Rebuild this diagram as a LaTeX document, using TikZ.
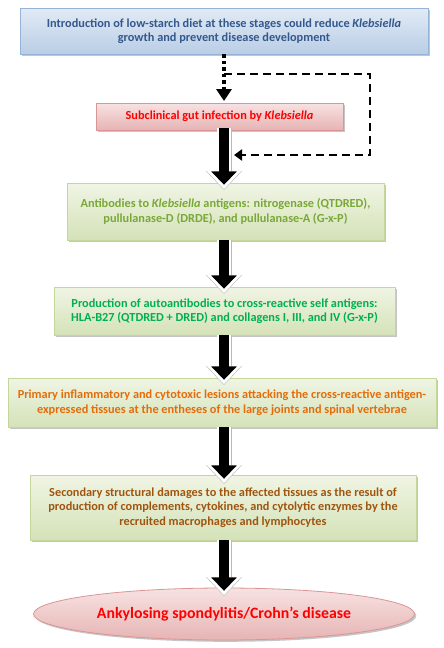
\documentclass[tikz,border=0pt]{standalone}
\usepackage{fontspec}
\setmainfont{Carlito}
\usetikzlibrary{arrows.meta,shapes.geometric,shadows,calc}
\definecolor{bluetxt}{RGB}{52,88,140}
\definecolor{greentxt}{RGB}{122,168,56}
\definecolor{brightgreen}{RGB}{0,176,80}
\definecolor{orangetxt}{RGB}{228,108,10}
\definecolor{browntxt}{RGB}{160,85,15}
\definecolor{redtxt}{RGB}{255,0,0}
\definecolor{bluetop}{RGB}{226,235,246}
\definecolor{bluebot}{RGB}{185,205,229}
\definecolor{blueborder}{RGB}{149,179,215}
\definecolor{pinktop}{RGB}{248,226,226}
\definecolor{pinkbot}{RGB}{230,180,180}
\definecolor{pinkborder}{RGB}{217,150,148}
\definecolor{greentop}{RGB}{240,245,228}
\definecolor{greenbot}{RGB}{212,226,184}
\definecolor{greenborder}{RGB}{195,214,155}
\tikzset{
  boxbase/.style={rectangle, align=center, inner sep=2pt, line width=0.8pt,
    font=\bfseries\fontsize{12.3}{14.5}\selectfont,
    drop shadow={shadow xshift=1.8pt, shadow yshift=-1.8pt, opacity=0.45, fill=gray}},
  bluebox/.style={boxbase, draw=blueborder, top color=bluetop, bottom color=bluebot},
  pinkbox/.style={boxbase, draw=pinkborder, top color=pinktop, bottom color=pinkbot},
  greenbox/.style={boxbase, draw=greenborder, top color=greentop, bottom color=greenbot},
  outcome/.style={ellipse, draw=pinkborder, line width=0.8pt, top color=pinktop, bottom color=pinkbot,
    font=\bfseries\fontsize{15.8}{18}\selectfont, text=redtxt,
    drop shadow={shadow xshift=1.8pt, shadow yshift=-1.8pt, opacity=0.45, fill=gray}},
  barrowgray/.style={line width=15pt, draw=gray!55, -{Triangle[length=19pt,width=35pt]}, shorten >=-4pt},
  barrowwhite/.style={line width=13.5pt, draw=white, -{Triangle[length=18pt,width=33pt]}, shorten >=-3.2pt},
  barrowblack/.style={line width=10pt, draw=black, -{Triangle[length=13.5pt,width=25pt]}, shorten >=1.2pt},
  dotline/.style={line width=3.5pt, dash pattern=on 3.5pt off 3pt, -{Triangle[length=12pt,width=15pt]}},
  dashloop/.style={line width=2.8pt, dash pattern=on 8pt off 5pt, -{Triangle[length=8pt,width=11pt]}}
}
\newcommand{\blockarrow}[2]{%
  \draw[barrowgray] (#1) -- (#2);
  \draw[barrowwhite] (#1) -- (#2);
  \draw[barrowblack] (#1) -- (#2);}
\begin{document}
\begin{tikzpicture}[x=1pt,y=-1pt]
\useasboundingbox[fill=white] (0,0) rectangle (444,648);

\node[bluebox, text=bluetxt, minimum width=408pt, minimum height=46pt] (b1) at (224,31)
  {Introduction of low-starch diet at these stages could reduce \textit{Klebsiella}\\ growth and prevent disease development};
\node[pinkbox, text=redtxt, minimum width=247pt, minimum height=27pt] (b2) at (219.5,116.5)
  {Subclinical gut infection by \textit{Klebsiella}};
\node[greenbox, text=greentxt, minimum width=317pt, minimum height=57pt] (b3) at (225.5,211.5)
  {Antibodies to \textit{Klebsiella} antigens: nitrogenase (QTDRED),\\ pullulanase-D (DRDE), and pullulanase-A (G-x-P)};
\node[greenbox, text=brightgreen, minimum width=341pt, minimum height=48pt] (b4) at (224.5,311)
  {Production of autoantibodies to cross-reactive self antigens:\\ HLA-B27 (QTDRED + DRED) and collagens I, III, and IV (G-x-P)};
\node[greenbox, text=orangetxt, minimum width=428pt, minimum height=49pt] (b5) at (222,402.5)
  {Primary inflammatory and cytotoxic lesions attacking the cross-reactive antigen-\\ expressed tissues at the entheses of the large joints and spinal vertebrae};
\node[greenbox, text=browntxt, minimum width=386pt, minimum height=65pt] (b6) at (223,507.5)
  {Secondary structural damages to the affected tissues as the result of\\ production of complements, cytokines, and cytolytic enzymes by the\\ recruited macrophages and lymphocytes};
\node[outcome, minimum width=381pt, minimum height=52pt, inner sep=0pt] (b7) at (224,614)
  {Ankylosing spondylitis/Crohn’s disease};

% dotted arrow from b1 to b2
\coordinate (d1) at (224,54);
\coordinate (d2) at (224,101);
\draw[dotline] (d1) -- (d2);

% block arrows
\coordinate (a1s) at (224,128);
\coordinate (a1e) at (224,186);
\blockarrow{a1s}{a1e}
\coordinate (a2s) at (224,240);
\coordinate (a2e) at (224,290);
\blockarrow{a2s}{a2e}
\coordinate (a3s) at (224,335);
\coordinate (a3e) at (224,381);
\blockarrow{a3s}{a3e}
\coordinate (a4s) at (224,427);
\coordinate (a4e) at (224,480);
\blockarrow{a4s}{a4e}
\coordinate (a5s) at (224,540);
\coordinate (a5e) at (224,592);
\blockarrow{a5s}{a5e}

% dashed feedback loop
\coordinate (ls) at (224,74);
\coordinate (le) at (234,155);
\draw[dashloop] (ls) -- (370,74) -- (370,155) -- (le);
\end{tikzpicture}
\end{document}
